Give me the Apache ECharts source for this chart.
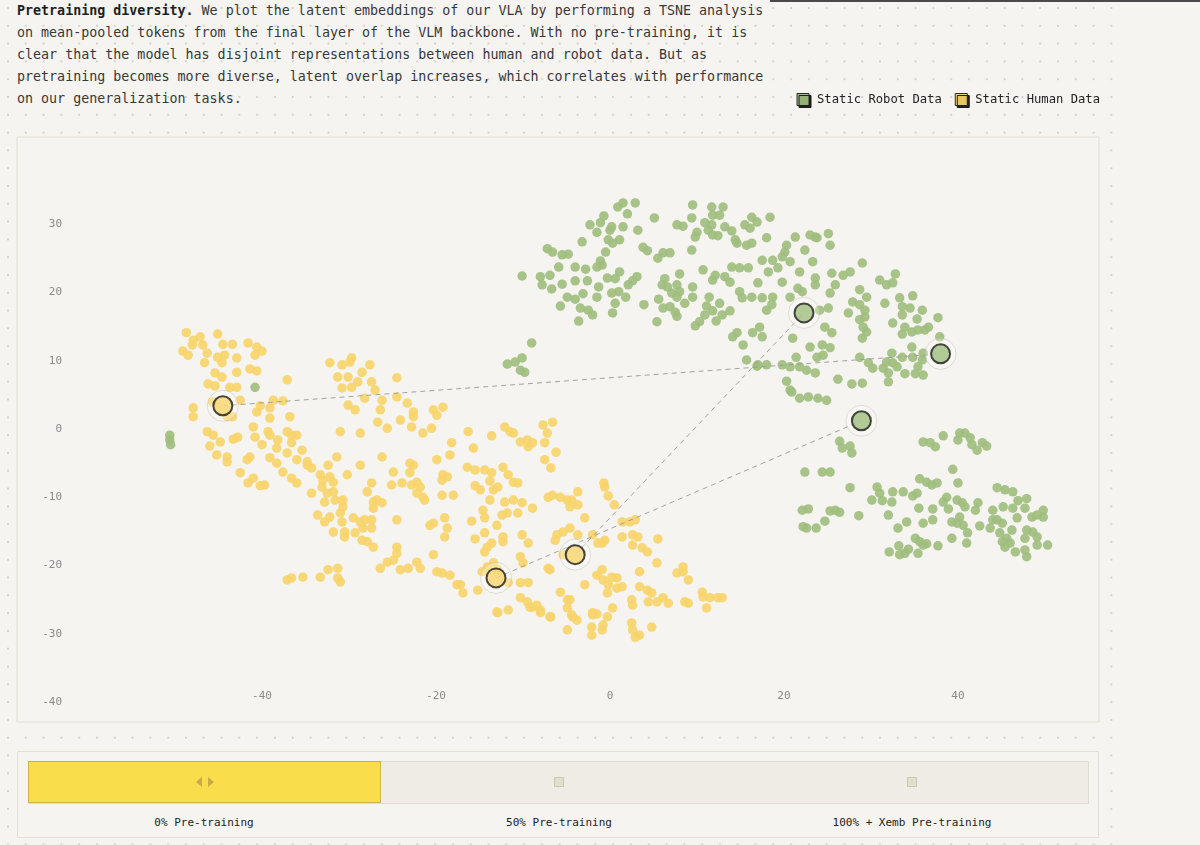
<!DOCTYPE html>
<html>
<head>
<meta charset="utf-8">
<script src="https://cdn.jsdelivr.net/npm/echarts@6/dist/echarts.min.js"></script>
<style>
html, body { margin: 0; padding: 0; width: 1200px; height: 845px; overflow: hidden; background: #f5f4f0; font-family: 'DejaVu Sans Mono', monospace; }
#dots { position: absolute; left: 0; top: 0; width: 1118px; height: 845px;
  background-image: radial-gradient(circle, #d7d3c8 0.9px, transparent 1.4px);
  background-size: 17.8px 17.8px; background-position: -0.9px -0.9px; }
#topline { position: absolute; left: 770px; top: 0; width: 430px; height: 2px; background: #4a4a4a; }
#chart { position: absolute; left: 0; top: 0; width: 1200px; height: 845px; }
#intro { position: absolute; left: 17px; top: 0; font-size: 13.33px; line-height: 22px; color: #383838; white-space: pre; }
#intro b { color: #1e1e1e; }
#sliderBox { position: absolute; left: 17px; top: 751px; width: 1080px; height: 85px; border: 1px solid #e4e0d3; background: #f5f4f0; }
#track { position: absolute; left: 28px; top: 761px; width: 1059px; height: 41px; background: #efece5; border: 1px solid #e0dcd0; }
#active { position: absolute; left: 28px; top: 761px; width: 351px; height: 40px; background: #fadd4b; border: 1px solid #d4b449; border-top-color: #c9a94c; }
.tri-l { position: absolute; width: 0; height: 0; border-top: 5px solid transparent; border-bottom: 5px solid transparent; border-right: 6px solid #c9aa47; }
.tri-r { position: absolute; width: 0; height: 0; border-top: 5px solid transparent; border-bottom: 5px solid transparent; border-left: 6px solid #c9aa47; }
.stop { position: absolute; width: 8px; height: 8px; background: #e3dfcf; border: 1px solid #cdc8b6; }
.slabel { position: absolute; top: 816px; width: 300px; margin-left: -150px; text-align: center; font-size: 11px; line-height: 14px; color: #222; }
</style>
</head>
<body>
<div id="dots"></div>
<div id="topline"></div>
<div id="intro"><b>Pretraining diversity.</b> We plot the latent embeddings of our VLA by performing a TSNE analysis
on mean-pooled tokens from the final layer of the VLM backbone. With no pre-training, it is
clear that the model has disjoint representations between human and robot data. But as
pretraining becomes more diverse, latent overlap increases, which correlates with performance
on our generalization tasks.</div>
<div id="sliderBox"></div>
<div id="track"></div>
<div id="active"></div>
<div class="tri-l" style="left:196px;top:777px"></div>
<div class="tri-r" style="left:208px;top:777px"></div>
<div class="stop" style="left:554px;top:777px"></div>
<div class="stop" style="left:907px;top:777px"></div>
<div id="labels"></div>
<div id="chart"></div>
<script>
const xTicks = [-40, -20, 0, 20, 40];
const yTicks = [-40, -30, -20, -10, 0, 10, 20, 30];
const sliderLabels = ['0% Pre-training', '50% Pre-training', '100% + Xemb Pre-training'];
const sliderCenters = [204, 559, 912];

// t-SNE coordinates, human clips
const humanPoints = [
  [-48.7,14.1],[-47.9,13.0],[-47.1,13.5],[-46.8,12.3],[-48.0,12.3],[-49.1,11.4],[-48.5,10.8],[-46.3,11.1],
  [-45.1,13.9],[-44.5,12.4],[-43.4,12.4],[-41.6,12.6],[-40.6,12.0],[-40.0,11.4],[-40.8,10.8],[-45.1,10.5],
  [-44.3,10.8],[-42.9,10.4],[-44.6,9.7],[-46.6,9.7],[-41.4,8.8],[-40.6,8.5],[-42.9,8.3],[-45.4,8.2],
  [-44.6,7.6],[-46.2,6.6],[-45.4,6.3],[-43.7,6.1],[-42.9,6.1],[-37.1,7.2],[-42.5,4.2],[-45.7,4.0],
  [-47.9,3.1],[-47.9,1.8],[-43.4,1.8],[-44.0,1.8],[-40.6,2.5],[-39.1,3.1],[-38.7,4.2],[-37.6,4.1],
  [-40.2,3.4],[-39.1,1.6],[-36.8,1.8],[-41.0,0.3],[-46.3,-0.4],[-45.6,-0.9],[-44.8,-1.9],[-43.3,-1.5],
  [-42.8,-1.2],[-40.8,-1.2],[-40.0,-2.3],[-39.3,-0.4],[-39.1,-0.9],[-38.2,-1.6],[-38.3,-2.8],[-37.1,-0.4],
  [-36.6,-0.9],[-36.0,-0.9],[-36.6,-2.0],[-37.1,-3.5],[-35.4,-3.1],[-46.0,-2.5],[-45.2,-3.8],[-44.0,-4.1],
  [-44.0,-4.8],[-41.7,-4.5],[-41.4,-4.1],[-42.5,-6.4],[-41.0,-7.2],[-41.6,-7.9],[-40.2,-8.3],[-39.7,-8.2],
  [-39.1,-4.2],[-38.3,-5.0],[-37.6,-6.3],[-36.6,-7.2],[-36.0,-7.9],[-36.0,-4.5],[-34.8,-5.3],[-34.3,-5.7],
  [-34.8,-4.8],[-34.3,-9.4],[-33.3,-6.7],[-33.0,-7.5],[-32.2,-7.0],[-31.8,-7.8],[-33.1,-8.5],[-32.5,-9.4],
  [-31.8,-9.2],[-31.4,-4.1],[-32.4,-5.3],[-30.2,-6.7],[-32.8,-10.7],[-31.6,-10.4],[-30.7,-10.4],[-30.7,-11.4],
  [-31.0,-12.3],[-33.6,-12.6],[-32.8,-13.6],[-32.2,-12.9],[-30.8,-13.6],[-31.8,-15.1],[-30.5,-15.1],[-30.5,-15.8],
  [-29.5,-13.0],[-28.7,-13.6],[-28.2,-13.3],[-27.4,-13.3],[-29.3,-15.2],[-28.5,-16.3],[-27.9,-16.5],[-27.2,-17.3],
  [-27.4,-14.5],[-28.4,-14.5],[-27.2,-11.6],[-26.8,-10.4],[-26.2,-10.8],[-27.2,-10.7],[-27.9,-9.2],[-27.4,-7.9],
  [-28.7,-5.3],[-31.0,-0.4],[-28.7,-0.6],[-32.2,9.7],[-30.8,9.4],[-29.9,9.8],[-29.7,10.4],[-27.6,9.4],
  [-28.5,8.3],[-31.3,7.6],[-30.1,7.6],[-29.0,6.9],[-29.7,6.1],[-30.8,6.0],[-27.4,6.9],[-27.0,5.7],
  [-28.2,4.5],[-26.2,4.2],[-24.5,4.7],[-24.5,7.5],[-30.1,3.5],[-29.3,2.8],[-26.4,2.8],[-26.7,1.0],
  [-25.6,0.1],[-23.3,3.8],[-24.1,1.3],[-22.6,1.8],[-22.8,0.3],[-21.5,-0.6],[-20.5,0.1],[-20.3,2.8],
  [-19.9,2.0],[-19.2,3.2],[-22.6,2.5],[-26.2,-4.1],[-24.9,-6.3],[-25.1,-8.2],[-23.9,-7.9],[-23.0,-5.0],
  [-22.6,-5.3],[-23.0,-6.4],[-22.8,-8.2],[-22.2,-7.8],[-21.8,-8.5],[-22.2,-9.4],[-21.5,-10.0],[-21.3,-10.4],
  [-19.9,-4.5],[-18.2,-2.0],[-18.4,-3.8],[-19.2,-6.7],[-18.7,-7.0],[-19.3,-7.5],[-19.3,-9.7],[-18.0,-9.7],
  [-24.5,-13.3],[-20.7,-14.1],[-20.3,-13.8],[-19.0,-13.0],[-18.7,-14.5],[-19.0,-15.8],[-20.3,-18.4],[-24.5,-17.3],
  [-24.5,-18.2],[-24.9,-19.2],[-25.6,-19.5],[-26.4,-20.4],[-24.1,-20.6],[-23.2,-20.4],[-22.2,-19.5],[-21.8,-20.4],
  [-19.9,-20.9],[-19.3,-21.1],[-18.4,-21.4],[-17.6,-22.8],[-37.1,-22.1],[-36.6,-21.8],[-35.3,-21.7],[-33.3,-21.7],
  [-32.4,-20.6],[-31.3,-20.4],[-31.3,-21.8],[-31.0,-22.4],
  [-16.3,-0.4],[-15.7,-2.8],[-13.6,-1.0],[-12.1,0.3],[-11.5,-0.4],[-11.1,-0.6],[-10.3,-1.9],[-9.5,-1.6],
  [-8.9,-2.0],[-9.4,-2.6],[-7.7,0.6],[-6.6,1.0],[-7.2,-0.6],[-7.5,-2.0],[-6.2,-3.4],[-7.5,-4.5],
  [-6.8,-5.7],[-16.4,-5.6],[-15.5,-6.0],[-14.4,-6.0],[-13.6,-6.4],[-13.8,-7.6],[-12.3,-5.6],[-11.7,-6.7],
  [-11.1,-7.8],[-10.6,-7.9],[-15.5,-8.3],[-14.9,-8.9],[-13.4,-8.9],[-12.9,-8.5],[-13.8,-10.4],[-12.1,-10.7],
  [-11.1,-10.4],[-10.1,-10.8],[-8.9,-11.6],[-10.6,-12.3],[-11.8,-12.3],[-12.4,-12.6],[-14.6,-11.9],[-14.4,-13.0],
  [-15.9,-13.5],[-13.0,-14.1],[-14.4,-15.2],[-15.5,-16.1],[-12.3,-15.8],[-12.3,-16.5],[-10.1,-15.5],[-9.4,-16.7],
  [-14.1,-17.3],[-13.6,-16.7],[-14.4,-18.0],[-10.3,-18.7],[-10.0,-19.6],[-7.1,-20.4],[-13.4,-19.6],[-12.9,-20.6],
  [-14.7,-20.9],[-10.3,-22.5],[-9.4,-22.5],[-10.3,-24.7],[-9.5,-25.3],[-9.2,-26.1],[-8.4,-25.8],[-8.0,-26.5],
  [-6.8,-27.5],[-13.0,-26.8],[-11.7,-26.5],[-15.2,-23.6],[-17.2,-22.8],[-16.9,-24.0],[-7.1,-10.0],[-6.6,-9.7],
  [-5.7,-10.0],[-4.9,-10.4],[-4.4,-10.4],[-4.6,-11.4],[-3.7,-11.1],[-3.7,-9.2],[-2.9,-13.0],[-6.1,-15.5],
  [-5.4,-15.1],[-4.6,-14.5],[-3.7,-15.5],[-2.0,-15.5],[-1.4,-16.7],[-5.7,-23.9],[-4.9,-25.0],[-4.6,-25.0],
  [-4.9,-26.2],[-4.4,-27.2],[-3.8,-28.0],[-4.9,-29.4],[-2.9,-22.8],[-2.0,-26.9],[-2.1,-29.0],[-2.1,-30.2],
  [-0.7,-7.9],[-0.6,-8.5],[-0.2,-9.8],[0.5,-11.1],[1.4,-13.6],[2.3,-13.6],[2.9,-13.3],[2.6,-15.5],
  [3.2,-15.8],[2.6,-17.0],[3.7,-17.4],[4.3,-18.0],[5.5,-16.1],[5.4,-19.6],[3.4,-20.9],[1.4,-15.8],
  [-0.6,-16.3],[-0.9,-16.7],[-0.9,-20.6],[-1.5,-21.4],[-0.8,-22.1],[0.2,-21.7],[0.8,-21.8],[-0.2,-22.8],
  [0.8,-23.3],[1.4,-23.1],[-0.3,-24.0],[3.4,-23.1],[4.3,-23.6],[4.8,-24.0],[4.4,-25.3],[5.4,-25.3],
  [6.1,-24.7],[6.7,-25.5],[7.7,-21.1],[8.4,-20.2],[8.4,-20.9],[9.0,-22.1],[8.6,-25.3],[9.0,-25.5],
  [10.6,-23.9],[10.7,-24.6],[11.5,-24.7],[12.4,-24.7],[12.9,-24.7],[11.1,-26.2],[2.5,-25.0],[2.6,-25.8],
  [0.3,-26.2],[4.8,-29.0],[2.5,-28.4],[2.6,-29.4],[2.9,-30.5],[3.4,-30.2],[-0.8,-28.7],[-0.9,-29.4],
  [-2.0,-27.2],[-1.5,-27.1],[-0.3,-27.5],[-4.3,-27.5],[-6.9,-20.6],[-8.9,-26.1],[-8.0,-26.9],[-6.9,-27.5],
  [-12.9,-26.9],[-6.3,-16.3],[-5.4,-18.4],[-14.1,-20.2],[-11.7,-22.5]
];

// t-SNE coordinates, robot clips
const robotPoints = [
  [-10.1,22.4],[-8.0,22.3],[-7.8,21.1],[-6.9,22.5],[-7.2,26.4],[-6.6,25.9],[-5.5,25.5],[-4.8,25.6],
  [-5.9,23.7],[-6.7,20.5],[-5.5,21.2],[-4.0,23.7],[-2.8,23.4],[-1.5,23.7],[-0.9,24.0],[-1.1,24.6],
  [-3.2,27.4],[-4.0,21.7],[-2.6,21.7],[-1.3,20.8],[-0.3,22.1],[0.6,22.0],[1.1,23.0],[-4.9,19.3],
  [-4.0,19.0],[-3.1,19.8],[-1.5,19.3],[-5.7,18.0],[-3.4,17.7],[-2.5,17.4],[-2.0,16.7],[-3.6,15.8],
  [0.2,19.9],[0.6,18.4],[1.0,20.1],[1.8,19.3],[0.3,17.0],[2.1,21.1],[2.6,21.7],[3.1,22.3],
  [-2.3,29.9],[-1.5,28.8],[-1.1,30.2],[-0.7,31.2],[0.0,29.1],[-0.2,27.7],[0.3,27.2],[1.1,27.7],
  [0.2,29.6],[1.5,29.6],[0.9,32.5],[1.5,33.1],[2.0,31.5],[2.9,33.1],[3.2,29.1],[-0.5,25.9],
  [3.8,26.6],[4.3,26.1],[5.1,30.9],[5.5,25.0],[6.1,25.8],[6.9,25.8],[6.3,22.0],[6.0,21.1],
  [6.6,20.8],[8.0,22.7],[7.7,21.1],[7.1,19.9],[7.7,19.3],[8.0,20.1],[8.6,18.4],[5.6,19.0],
  [6.1,17.7],[6.9,17.9],[7.5,17.1],[7.7,16.5],[5.4,15.7],[3.9,18.2],[9.5,20.8],[9.5,19.3],
  [9.4,26.2],[7.7,29.9],[8.4,29.7],[9.4,30.9],[9.5,32.8],[10.0,28.8],[9.8,28.1],[10.9,30.2],
  [11.3,29.1],[11.7,29.9],[10.7,23.3],[11.7,32.5],[11.8,31.3],[12.6,31.3],[13.0,32.5],[11.8,28.4],
  [12.4,28.3],[13.2,29.6],[14.0,29.0],[14.4,27.7],[14.6,27.2],[12.1,22.5],[11.8,21.8],[13.2,22.3],
  [13.8,21.5],[14.0,23.7],[11.4,19.3],[11.1,18.0],[11.8,17.3],[12.6,18.4],[12.9,16.7],[13.8,17.3],
  [10.9,16.7],[12.2,15.8],[10.3,15.7],[9.8,15.1],[14.9,23.6],[15.9,23.6],[14.9,20.1],[15.2,19.2],
  [16.3,19.3],[17.5,19.2],[17.0,21.4],[15.5,29.9],[16.1,29.4],[16.3,31.0],[16.9,30.3],[18.4,31.0],
  [15.7,26.9],[16.3,27.2],[18.0,28.0],[17.5,24.7],[18.7,24.7],[18.2,23.0],[19.3,23.6],[19.8,25.2],
  [20.1,25.9],[20.3,26.9],[20.7,24.5],[19.8,21.5],[21.8,23.0],[21.3,28.1],[22.4,26.2],[23.0,28.4],
  [23.6,28.1],[23.3,24.5],[23.6,22.1],[23.6,21.1],[21.6,20.6],[22.1,20.1],[20.7,19.3],[18.7,19.3],
  [18.6,18.2],[18.0,17.4],[17.2,14.9],[16.4,14.1],[17.5,13.5],[14.6,14.1],[14.1,13.5],[15.3,12.3],
  [15.7,10.1],[17.0,9.4],[18.0,9.4],[19.8,9.4],[20.7,9.1],[21.8,9.1],[22.6,8.6],[23.6,8.2],
  [20.3,7.0],[21.0,13.3],[21.4,10.5],[23.0,12.0],[23.8,10.5],[20.7,5.7],[16.9,9.2],
  [-9.0,12.6],[-11.8,9.5],[-10.9,9.8],[-10.1,10.4],[-10.3,8.6],[-9.8,8.3],
  [-40.8,6.1],[-50.6,-0.9],[-50.6,-1.6],[-50.5,-2.3],
  [23.8,28.0],[25.1,28.6],[25.3,26.9],[29.0,24.3],[31.0,21.8],[31.8,21.1],[32.5,21.4],[32.8,22.7],
  [33.3,19.2],[34.8,19.5],[31.6,18.4],[33.6,17.9],[34.5,17.7],[35.9,17.4],[37.7,16.3],[33.6,16.7],
  [35.3,16.1],[32.5,15.5],[33.9,14.9],[34.7,14.2],[35.4,14.5],[36.2,14.5],[36.6,14.9],[33.6,13.9],
  [37.9,13.5],[34.7,12.0],[32.4,11.1],[33.6,10.5],[34.8,10.5],[36.0,11.1],[35.9,10.1],[35.4,9.1],
  [36.0,7.9],[35.1,8.1],[33.9,8.1],[33.0,9.1],[32.5,9.7],[31.8,9.8],[31.4,8.9],[32.0,8.2],
  [32.0,6.9],[30.2,8.9],[29.7,9.7],[28.7,10.5],[27.9,18.6],[28.7,18.2],[29.3,17.4],[29.3,16.4],
  [28.7,16.0],[29.1,14.9],[29.5,14.2],[29.0,13.3],[27.4,17.0],[28.7,20.4],[29.5,19.3],[25.9,21.1],
  [25.3,19.9],[26.8,22.5],[27.6,23.0],[25.5,22.8],[24.7,14.9],[25.5,14.1],[24.4,12.3],[25.3,11.9],
  [24.5,10.8],[24.1,17.4],[25.1,17.7],[20.9,5.4],[21.8,4.5],[22.8,4.7],[23.9,4.5],[24.9,4.2],
  [26.2,7.3],[27.8,6.6],[29.0,6.7],
  [26.4,-1.8],[26.7,-2.8],[27.6,-2.5],[27.8,-3.5],[22.4,-6.3],[24.4,-6.3],[25.3,-6.3],[27.6,-8.6],
  [22.1,-11.9],[22.8,-11.7],[22.2,-14.3],[22.6,-14.5],[23.7,-14.5],[24.7,-13.5],[25.3,-12.0],[25.9,-11.9],
  [26.4,-12.2],[28.6,-12.7],[30.1,-10.4],[30.7,-8.5],[31.0,-9.4],[31.3,-10.5],[32.5,-9.2],[33.7,-9.2],
  [32.4,-10.7],[32.0,-12.6],[33.1,-14.5],[34.1,-13.6],[32.1,-18.0],[33.2,-17.1],[33.3,-18.4],[33.9,-18.2],
  [34.3,-17.6],[35.4,-18.2],[35.1,-16.0],[35.6,-16.5],[36.0,-17.0],[36.4,-16.8],[37.7,-17.1],[34.8,-9.8],
  [35.3,-9.4],[35.5,-11.6],[36.0,-13.8],[37.1,-11.7],[37.1,-13.3],[35.6,-7.3],[36.4,-7.8],[37.0,-8.2],
  [37.6,-7.9],[36.0,-1.9],[36.8,-2.0],[37.4,-2.6],[38.3,-1.0],[40.0,-1.6],[40.2,-0.6],[40.8,-0.6],
  [41.4,-1.3],[41.6,-2.3],[42.2,-3.1],[42.8,-2.0],[43.3,-2.5],[39.4,-5.9],[40.0,-7.9],[38.7,-10.0],
  [38.3,-10.7],[38.9,-11.7],[39.9,-10.4],[40.5,-10.8],[40.8,-11.4],[40.2,-12.9],[39.3,-13.6],[39.9,-13.8],
  [40.6,-14.1],[41.1,-15.2],[41.0,-16.7],[39.3,-16.0],[42.0,-11.9],[42.3,-10.8],[42.5,-14.2],[43.7,-14.5],
  [44.0,-11.9],[44.0,-13.3],[44.5,-8.6],[45.4,-8.9],[46.3,-9.2],[46.9,-10.5],[47.9,-10.2],[46.3,-11.6],
  [45.2,-11.4],[47.7,-11.6],[46.8,-13.0],[48.5,-12.9],[49.1,-12.6],[49.8,-11.9],[49.8,-12.9],[45.1,-13.8],
  [44.8,-15.2],[45.1,-16.5],[45.6,-16.0],[46.0,-16.7],[45.4,-17.3],[46.6,-18.0],[47.7,-17.7],[47.9,-18.7],
  [47.9,-14.8],[48.6,-15.1],[49.1,-15.8],[49.1,-17.0],[50.3,-17.0],[47.7,-16.0],[44.5,-13.3],[46.2,-14.8]
];

// selected examples, linked human -> robot
const highlightHuman = [[-44.5, 3.4], [-13.1, -21.8], [-4.0, -18.4]];
const highlightRobot = [[22.3, 17.0], [38.0, 11.0], [28.9, 1.2]];
const linkPairs = [[0, 1], [1, 2], [2, 0]];

const robotColor = '#9fbe7e';
const humanColor = '#f7d46b';
const mono = 'DejaVu Sans Mono';

document.getElementById('labels').innerHTML = sliderLabels.map((t, i) =>
  '<div class="slabel" style="left:' + sliderCenters[i] + 'px">' + t + '</div>').join('');

const chart = echarts.init(document.getElementById('chart'));

const linkData = linkPairs.map(p => ({ coords: [highlightHuman[p[0]], highlightRobot[p[1]]] }));
const haloData = highlightHuman.concat(highlightRobot);

const option = {
    animation: false,
    legend: {
        data: ['Static Robot Data', 'Static Human Data'],
        right: 95,
        top: 88,
        icon: 'rect',
        itemWidth: 12,
        itemHeight: 12,
        itemGap: 13,
        itemStyle: {
            borderColor: '#1a1a1a',
            borderWidth: 1,
            shadowColor: '#111',
            shadowBlur: 0,
            shadowOffsetX: 2,
            shadowOffsetY: 2
        },
        textStyle: { fontFamily: mono, fontSize: 12.2, color: '#222', padding: [0, 0, 0, 3] }
    },
    grid: {
        left: 17, top: 137, width: 1082, height: 585,
        show: true,
        backgroundColor: '#f5f4f0',
        borderColor: '#e2ded1',
        borderWidth: 1
    },
    xAxis: {
        type: 'value',
        min: -68.16,
        max: 56.21,
        axisLine: { show: false },
        axisTick: { show: false },
        splitLine: { show: false },
        axisLabel: {
            inside: true,
            margin: 20,
            customValues: xTicks,
            color: '#8a8a8a',
            fontFamily: mono,
            fontSize: 11
        }
    },
    yAxis: {
        type: 'value',
        min: -42.9,
        max: 42.75,
        axisLine: { show: false },
        axisTick: { show: false },
        splitLine: { show: false },
        axisLabel: {
            inside: true,
            align: 'right',
            margin: 45,
            customValues: yTicks,
            color: '#8a8a8a',
            fontFamily: mono,
            fontSize: 11
        }
    },
    series: [
        {
            name: 'Static Human Data',
            type: 'scatter',
            data: humanPoints,
            symbolSize: 9.5,
            itemStyle: { color: humanColor, opacity: 0.92 },
            z: 2
        },
        {
            name: 'Static Robot Data',
            type: 'scatter',
            data: robotPoints,
            symbolSize: 9.5,
            itemStyle: { color: robotColor, opacity: 0.92 },
            z: 2
        },
        {
            name: 'links',
            type: 'lines',
            coordinateSystem: 'cartesian2d',
            data: linkData,
            lineStyle: { color: '#9a9a9a', width: 1, type: [5, 4], opacity: 0.9 },
            z: 3
        },
        {
            name: 'halo',
            type: 'scatter',
            data: haloData,
            symbolSize: 31,
            itemStyle: { color: 'rgba(255,255,255,0.35)', borderColor: 'rgba(185,175,150,0.45)', borderWidth: 1 },
            z: 4
        },
        {
            name: 'selHuman',
            type: 'scatter',
            data: highlightHuman,
            symbolSize: 19,
            itemStyle: { color: humanColor, borderColor: '#1a1a1a', borderWidth: 2 },
            z: 5
        },
        {
            name: 'selRobot',
            type: 'scatter',
            data: highlightRobot,
            symbolSize: 19,
            itemStyle: { color: robotColor, borderColor: '#1a1a1a', borderWidth: 2 },
            z: 5
        }
    ]
};

chart.setOption(option);
</script>
</body>
</html>
